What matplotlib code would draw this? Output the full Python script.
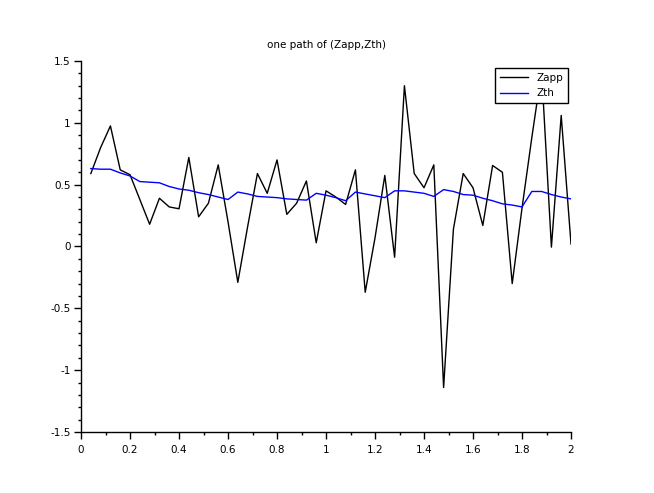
import matplotlib
matplotlib.use("Agg")
import matplotlib.pyplot as plt
from matplotlib.ticker import MultipleLocator, FormatStrFormatter
import numpy as np

# time grid (step 0.04 up to 2)
t = np.linspace(0.04, 2.0, 50)

zapp = [0.59, 0.80, 0.975, 0.62, 0.58, 0.38, 0.18, 0.39, 0.32, 0.305,
        0.72, 0.24, 0.35, 0.66, 0.20, -0.29, 0.16, 0.59, 0.43, 0.70,
        0.26, 0.35, 0.53, 0.03, 0.45, 0.40, 0.34, 0.62, -0.37, 0.07,
        0.575, -0.087, 1.30, 0.59, 0.475, 0.66, -1.14, 0.14, 0.59, 0.475,
        0.17, 0.655, 0.60, -0.30, 0.31, 0.88, 1.42, -0.005, 1.06, 0.02]

zth = [0.63, 0.625, 0.625, 0.595, 0.57, 0.525, 0.52, 0.515, 0.485, 0.465,
       0.455, 0.435, 0.42, 0.40, 0.38, 0.44, 0.425, 0.405, 0.40, 0.395,
       0.385, 0.38, 0.375, 0.43, 0.415, 0.395, 0.37, 0.44, 0.425, 0.41,
       0.395, 0.45, 0.45, 0.44, 0.43, 0.405, 0.46, 0.445, 0.42, 0.415,
       0.39, 0.37, 0.345, 0.335, 0.32, 0.445, 0.445, 0.42, 0.40, 0.385]

title = "one path of (Zapp,Zth)"

plt.rcParams['font.family'] = ['DejaVu Sans']
plt.rcParams['font.size'] = 7.5
plt.rcParams['axes.unicode_minus'] = False

fig = plt.figure(figsize = (6.54, 4.93), dpi = 100)
ax  = fig.add_axes([0.1239, 0.1237, 0.7492, 0.7526])

ax.plot(t, zapp, color = 'black', lw = 1.0, label = 'Zapp')
ax.plot(t, zth,  color = '#0000ff', lw = 1.0, label = 'Zth')

ax.set_xlim(0, 2)
ax.set_ylim(-1.5, 1.5)
ax.xaxis.set_major_locator(MultipleLocator(0.2))
ax.xaxis.set_minor_locator(MultipleLocator(0.1))
ax.yaxis.set_major_locator(MultipleLocator(0.5))
ax.yaxis.set_minor_locator(MultipleLocator(0.1))
ax.xaxis.set_major_formatter(FormatStrFormatter('%g'))
ax.yaxis.set_major_formatter(FormatStrFormatter('%g'))

for side in ["top", "right"]:
    ax.spines[side].set_visible(False)
for side in ["left", "bottom"]:
    ax.spines[side].set_linewidth(1.0)
ax.tick_params(which = 'major', direction = 'out', length = 5, width = 1.0, pad = 2.5)
ax.tick_params(which = 'minor', direction = 'out', length = 2.5, width = 1.0)
ax.tick_params(axis = 'x', which = 'major', pad = 4)

ax.set_title(title, fontsize = 7.5, pad = 9)

leg = ax.legend(loc = 'upper right', bbox_to_anchor = (0.994, 0.981), borderaxespad = 0,
                fancybox = False, edgecolor = 'black', framealpha = 1,
                handlelength = 2.7, fontsize = 7.5, borderpad = 0.45, labelspacing = 0.55)
leg.get_frame().set_linewidth(1.0)
leg.set_zorder(10)

fig.savefig("out.png", dpi = 100)
